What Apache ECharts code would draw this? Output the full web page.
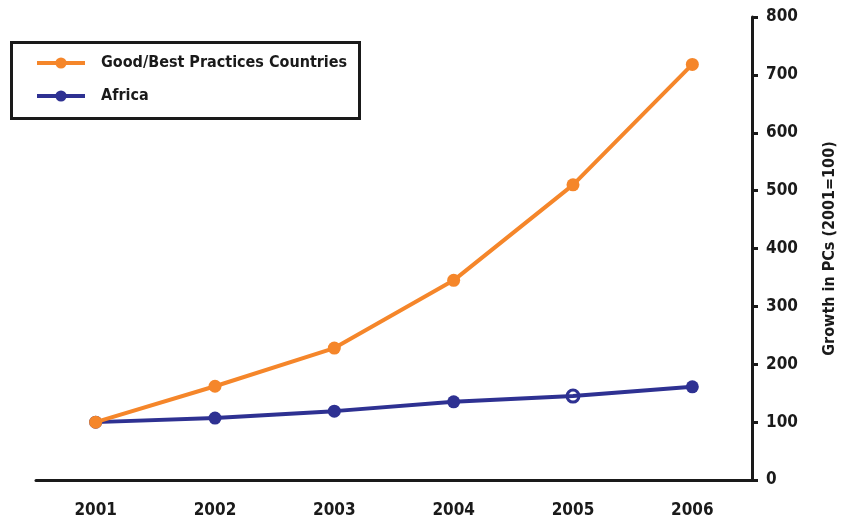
<!DOCTYPE html>
<html>
<head>
<meta charset="utf-8">
<script src="https://cdn.jsdelivr.net/npm/echarts@6/dist/echarts.min.js"></script>
<style>
  html, body { margin: 0; padding: 0; background: #fff; }
  #chart { width: 852px; height: 521px; }
</style>
</head>
<body>
<div id="chart"></div>
<script>
// Years on the horizontal axis
const years = ['2001', '2002', '2003', '2004', '2005', '2006'];
// PC growth index (2001 = 100)
const goodBest = [100, 162, 228, 345, 510, 718];
const africa = [100, 107, 119, 135, 145, 161];
// Year whose Africa point is drawn as an open ring
const openRingYear = '2005';

const ORANGE = '#F5862A';
const BLUE = '#2E3192';
const INK = '#1a1a1a';
// Heavy condensed lettering
const FONT = '"Liberation Sans Narrow", "DejaVu Sans Condensed", "DejaVu Sans", sans-serif';
const WEIGHT = 'bold';

const africaData = africa.map((v, i) => years[i] === openRingYear
  ? { value: v, itemStyle: { color: 'rgba(0,0,0,0)', borderColor: BLUE, borderWidth: 3 }, symbolSize: 12 }
  : v);

const labelStyle = { fontFamily: FONT, fontWeight: WEIGHT, fontSize: 17, color: INK };

const chart = echarts.init(document.getElementById('chart'));
chart.setOption({
  animation: false,
  grid: { left: 36, right: 100, top: 17, bottom: 41 },
  graphic: [{
    type: 'rect',
    shape: { x: 11.5, y: 42.5, width: 348, height: 76 },
    style: { fill: '#fff', stroke: INK, lineWidth: 3 },
    z: 0
  }],
  legend: {
    orient: 'vertical',
    left: 30,
    top: 50,
    itemWidth: 48,
    itemHeight: 14,
    itemGap: 17,
    z: 10,
    lineStyle: { width: 4 },
    textStyle: Object.assign({ padding: [0, 0, 0, 11] }, labelStyle, { fontSize: 16 }),
    data: ['Good/Best Practices Countries', 'Africa']
  },
  xAxis: {
    type: 'category',
    data: years,
    boundaryGap: true,
    axisLine: { lineStyle: { color: INK, width: 3 } },
    axisTick: { length: 8, lineStyle: { color: INK, width: 3 } },
    axisLabel: Object.assign({ margin: 22 }, labelStyle)
  },
  yAxis: {
    type: 'value',
    position: 'right',
    min: 0, max: 800, interval: 100,
    name: 'Growth in PCs (2001=100)',
    nameLocation: 'middle',
    nameRotate: 90,
    nameGap: 70,
    nameTextStyle: { fontFamily: FONT, fontWeight: WEIGHT, fontSize: 16, color: INK },
    axisLine: { show: true, lineStyle: { color: INK, width: 3 } },
    axisTick: { show: true, length: 6, lineStyle: { color: INK, width: 3 } },
    splitLine: { show: false },
    axisLabel: Object.assign({ margin: 14 }, labelStyle)
  },
  series: [
    {
      name: 'Good/Best Practices Countries',
      type: 'line',
      data: goodBest,
      symbol: 'circle',
      symbolSize: 13,
      lineStyle: { color: ORANGE, width: 4 },
      itemStyle: { color: ORANGE },
      z: 3
    },
    {
      name: 'Africa',
      type: 'line',
      data: africaData,
      symbol: 'circle',
      symbolSize: 13,
      lineStyle: { color: BLUE, width: 4 },
      itemStyle: { color: BLUE },
      z: 2
    }
  ]
});
</script>
</body>
</html>
